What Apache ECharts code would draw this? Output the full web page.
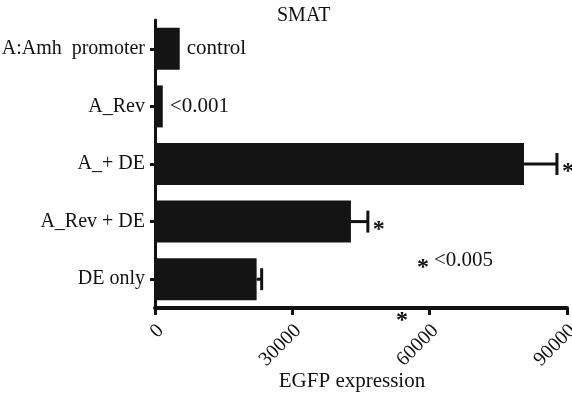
<!DOCTYPE html>
<html><head><meta charset="utf-8">
<script src="https://cdn.jsdelivr.net/npm/echarts@6/dist/echarts.min.js"></script>
<style>html,body{margin:0;padding:0;background:#fff}#c{width:572px;height:394px}</style>
</head><body><div id="c"></div>
<script>
const categories = ['A:Amh  promoter', 'A_Rev', 'A_+ DE', 'A_Rev + DE', 'DE only'];
const values = [5400, 1700, 80600, 42800, 22200];
const errors = [0, 0, 7200, 3700, 1100];
const notes = ['control', '<0.001', '*', '*', ''];
const xTicks = [0, 30000, 60000, 90000];
const legendNote = '<0.005';

const FONT = '"Liberation Serif", "Times New Roman", serif';
const INK = '#111';
const chart = echarts.init(document.getElementById('c'));

chart.setOption({
  animation: false,
  backgroundColor: '#fff',
  title: {
    text: 'SMAT', left: 272, top: 1,
    textStyle: { fontFamily: FONT, fontSize: 20, fontWeight: 'normal', color: INK }
  },
  grid: { left: 155, right: 5, top: 20, bottom: 86, containLabel: false, outerBoundsMode: 'none' },
  xAxis: {
    type: 'value', min: xTicks[0], max: xTicks[xTicks.length - 1], interval: xTicks[1] - xTicks[0],
    splitLine: { show: false },
    axisLine: { show: true, lineStyle: { color: INK, width: 4 } },
    axisTick: { show: true, length: 7, lineStyle: { color: INK, width: 3 } },
    axisLabel: { rotate: 45, margin: 14, verticalAlign: 'top', lineHeight: 16, fontFamily: FONT, fontSize: 20, color: INK,
      formatter: function (v) { return String(v); } },
    name: 'EGFP expression', nameLocation: 'middle', nameGap: 63, nameMoveOverlap: false,
    nameTextStyle: { fontFamily: FONT, fontSize: 21, color: INK, padding: [0, 18, 0, 0] }
  },
  yAxis: {
    type: 'category', inverse: true, data: categories,
    axisLine: { show: true, lineStyle: { color: INK, width: 3 } },
    axisTick: { show: true, alignWithLabel: true, length: 5, lineStyle: { color: INK, width: 3 } },
    axisLabel: { margin: 10, fontFamily: FONT, fontSize: 20, color: INK }
  },
  series: [
    {
      type: 'bar', data: values, barWidth: 42,
      itemStyle: { color: '#141414' }
    },
    {
      type: 'custom',
      data: values.map((v, i) => [i, v, errors[i]]),
      encode: { x: 1, y: 0 },
      z: 5,
      renderItem: function (params, api) {
        const i = api.value(0);
        const v = api.value(1);
        const e = api.value(2);
        const start = api.coord([v, i]);
        const end = api.coord([v + e, i]);
        const children = [];
        if (e > 0) {
          children.push({ type: 'line', shape: { x1: start[0], y1: start[1], x2: end[0], y2: end[1] }, style: { stroke: INK, lineWidth: 3 } });
          children.push({ type: 'line', shape: { x1: end[0], y1: end[1] - 11, x2: end[0], y2: end[1] + 11 }, style: { stroke: INK, lineWidth: 3 } });
        }
        const note = notes[i];
        if (note) {
          const star = note === '*';
          children.push({
            type: 'text', x: end[0] + (star ? 5 : 7), y: end[1] + (star ? 8 : 0),
            style: { text: note, fontFamily: FONT, fontSize: star ? 24 : 21, fontWeight: star ? 'bold' : 'normal', fill: INK, verticalAlign: 'middle', align: 'left' }
          });
        }
        return { type: 'group', children: children };
      }
    }
  ],
  graphic: [
    { type: 'text', x: 417, y: 268, style: { text: '*', fontFamily: FONT, fontSize: 24, fontWeight: 'bold', fill: INK, verticalAlign: 'middle' } },
    { type: 'text', x: 434, y: 260, style: { text: legendNote, fontFamily: FONT, fontSize: 21, fill: INK, verticalAlign: 'middle' } },
    { type: 'text', x: 396, y: 321, style: { text: '*', fontFamily: FONT, fontSize: 24, fontWeight: 'bold', fill: INK, verticalAlign: 'middle' } }
  ]
});
</script></body></html>
